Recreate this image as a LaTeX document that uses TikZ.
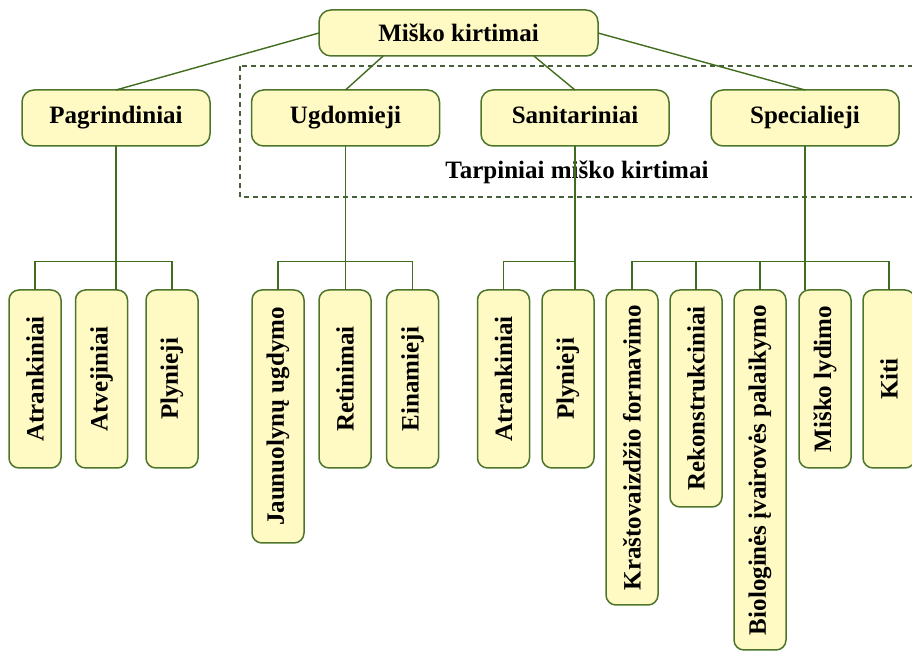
\documentclass[tikz,border=0pt]{standalone}
\usepackage{fontspec}
\setmainfont{Liberation Serif}
\usepackage{graphicx}
\usetikzlibrary{positioning,calc}
\definecolor{boxfill}{RGB}{255,249,196}
\definecolor{boxline}{RGB}{78,118,42}
\definecolor{linkcol}{RGB}{64,108,30}
\definecolor{dashcol}{RGB}{70,96,58}
\tikzset{dbox/.style={draw=boxline, line width=0.75pt, fill=boxfill, rounded corners=6pt, inner sep=0pt, outer sep=0pt, font=\fontsize{12.5}{15}\selectfont\bfseries}}
\tikzset{hbox/.style={dbox, minimum width=94pt, minimum height=28pt, text height=9pt, text depth=3pt}}
\tikzset{leaf/.style={dbox, rounded corners=5pt, minimum width=26pt, minimum height=#1, anchor=north}}
\tikzset{lnk/.style={draw=linkcol, line width=0.7pt}}
\newcommand{\vtext}[1]{\rotatebox{90}{#1}}

\begin{document}
\begin{tikzpicture}[x=0.5pt, y=-0.5pt]
	\useasboundingbox (0,0) rectangle (912,651);
	% group of intermediate cuttings
	\draw[dashcol, line width=0.6pt, dash pattern=on 2.5pt off 2pt]
		(240,66) rectangle (918,197);
	\node[font=\fontsize{12.5}{15}\selectfont\bfseries] (tarp) at (577,172) {Tarpiniai miško kirtimai};

	\node[dbox, minimum width=139.5pt, minimum height=23pt] (top) at (458.5,33) {Miško kirtimai};
	\node[hbox] (pag) at (116,118) {Pagrindiniai};
	\node[hbox] (ugd) at (345.5,118) {Ugdomieji};
	\node[hbox] (san) at (575,118) {Sanitariniai};
	\node[hbox] (spec) at (805,118) {Specialieji};

	\draw[lnk] (top.west) -- (pag.north);
	\draw[lnk] ($(top.south west)!0.23!(top.south east)$) -- (ugd.north);
	\draw[lnk] ($(top.south west)!0.77!(top.south east)$) -- (san.north);
	\draw[lnk] (top.east) -- (spec.north);

	% leaves
	\node[leaf=89pt] (a1) at (35,290) {\vtext{Atrankiniai}};
	\node[leaf=89pt, right=7.25pt of a1.north east, anchor=north west] (a2) {\vtext{Atvejiniai}};
	\node[leaf=89pt, right=9.25pt of a2.north east, anchor=north west] (a3) {\vtext{Plynieji}};

	\node[leaf=126.5pt] (u1) at (278,290) {\vtext{Jaunuolynų ugdymo}};
	\node[leaf=89pt, right=7.5pt of u1.north east, anchor=north west] (u2) {\vtext{Retinimai}};
	\node[leaf=89pt, right=7.75pt of u2.north east, anchor=north west] (u3) {\vtext{Einamieji}};

	\node[leaf=89pt] (s1) at (503.5,290) {\vtext{Atrankiniai}};
	\node[leaf=89pt, right=6.25pt of s1.north east, anchor=north west] (s2) {\vtext{Plynieji}};

	\node[leaf=157.5pt] (k1) at (632,290) {\vtext{Kraštovaizdžio formavimo}};
	\node[leaf=108.5pt, right=6pt of k1.north east, anchor=north west] (k2) {\vtext{Rekonstrukciniai}};
	\node[leaf=180pt, right=6pt of k2.north east, anchor=north west] (k3) {\vtext{Biologinės įvairovės palaikymo}};
	\node[leaf=89pt, right=6.5pt of k3.north east, anchor=north west] (k4) {\vtext{Miško lydimo}};
	\node[leaf=89pt, right=6pt of k4.north east, anchor=north west] (k5) {\vtext{Kiti}};

	% trunks and bars
	\coordinate (bar) at (0,261.5);
	\draw[lnk] (pag.south) -- (pag.south |- a2.north);
	\draw[lnk] (a1.north) |- (bar -| a3.north) -- (a3.north);

	\draw[lnk] (ugd.south) -- (ugd.south |- u2.north);
	\draw[lnk] (u1.north) |- (bar -| u3.north) -- (u3.north);

	\draw[lnk] (san.south) -- (san.south |- s2.north);
	\draw[lnk] (s1.north) |- (bar -| san.south);

	\draw[lnk] (spec.south) -- (spec.south |- k4.north);
	\draw[lnk] (k1.north) |- (bar -| k5.north) -- (k5.north);
	\foreach \n in {k2,k3}
		\draw[lnk] (\n.north) -- (\n.north |- bar);
\end{tikzpicture}
\end{document}
